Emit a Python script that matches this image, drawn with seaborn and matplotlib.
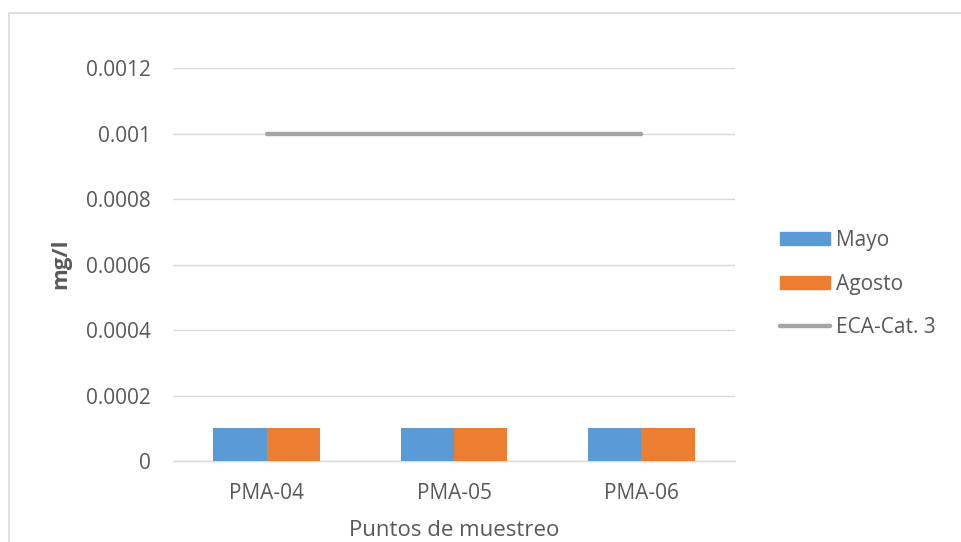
import numpy as np
import pandas as pd
import matplotlib
matplotlib.use("Agg")
import matplotlib.pyplot as plt
import seaborn as sns
from matplotlib.patches import Rectangle
from matplotlib.lines import Line2D
from matplotlib.patches import Patch

puntos = ["PMA-04", "PMA-05", "PMA-06"]
mayo = [0.0001, 0.0001, 0.0001]
agosto = [0.0001, 0.0001, 0.0001]
eca_cat3 = [0.001, 0.001, 0.001]
yticks = [0, 0.0002, 0.0004, 0.0006, 0.0008, 0.001, 0.0012]
ytick_labels = ["0", "0.0002", "0.0004", "0.0006", "0.0008", "0.001", "0.0012"]

df = pd.DataFrame({
    "Punto": puntos * 2,
    "Mes": ["Mayo"] * 3 + ["Agosto"] * 3,
    "valor": mayo + agosto,
})

sns.set_theme(style="white")
plt.rcParams["font.family"] = ["Open Sans", "DejaVu Sans"]
txt = "#595959"

fig = plt.figure(figsize=(9.61, 5.42), dpi=100)
ax = fig.add_axes([0.180, 0.1494, 0.585, 0.7251])

# outer chart frame
fig.patches.append(Rectangle((9 / 961, -0.05), 1.1, 1 - 13 / 542 + 0.05,
                             transform=fig.transFigure, fill=False,
                             edgecolor="#d9d9d9", linewidth=1.2, zorder=0))

sns.barplot(data=df, x="Punto", y="valor", hue="Mes",
            palette={"Mayo": "#5b9bd5", "Agosto": "#ed7d31"},
            saturation=1, width=0.57, linewidth=0, ax=ax, legend=False,
            zorder=3)

ax.plot(np.arange(len(puntos)), eca_cat3, color="#a5a5a5", lw=3.2,
        solid_capstyle="round", zorder=4)

ax.set_ylim(0, 0.0012)
ax.set_xlim(-0.5, 2.5)
ax.set_yticks(yticks)
ax.set_yticklabels(ytick_labels)
ax.yaxis.grid(True, color="#d9d9d9", linewidth=1)
ax.set_axisbelow(True)
for s in ["top", "right", "left"]:
    ax.spines[s].set_visible(False)
ax.spines["bottom"].set_color("#d9d9d9")
ax.spines["bottom"].set_linewidth(1)
ax.tick_params(axis="both", length=0, labelsize=15, labelcolor=txt)
ax.tick_params(axis="y", pad=16)
ax.tick_params(axis="x", pad=16)

ax.set_xlabel("Puntos de muestreo", fontsize=16, color=txt)
ax.xaxis.set_label_coords(0.5, -0.1756, transform=ax.transAxes)
ax.xaxis.label.set_va("center")
ax.set_ylabel("")
fig.text(61 / 961, 1 - 264 / 542, "mg/l", rotation=90, ha="center",
         va="center", fontsize=16, color=txt, fontweight="bold")

handles = [Patch(color="#5b9bd5", label="Mayo"),
           Patch(color="#ed7d31", label="Agosto"),
           Line2D([0], [0], color="#a5a5a5", lw=3.2, solid_capstyle="round",
                  label="ECA-Cat. 3")]
leg = fig.legend(handles=handles, loc="center left",
                 bbox_to_anchor=(0.7926, 0.476), frameon=False,
                 fontsize=15, labelspacing=1.1, handlelength=2.4,
                 handleheight=0.6, handletextpad=0.25)
for t in leg.get_texts():
    t.set_color(txt)

fig.savefig("out.png", dpi=100)
